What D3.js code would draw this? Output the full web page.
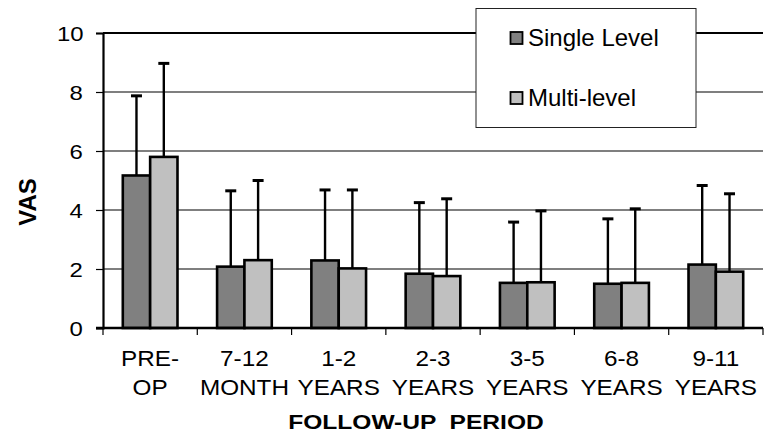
<!DOCTYPE html>
<html>
<head>
<meta charset="utf-8">
<script src="https://cdn.jsdelivr.net/npm/d3@7"></script>
<style>
  body { margin: 0; background: #fff; }
  svg text { font-family: Arial, "Liberation Sans", sans-serif; fill: #000; }
  .wide { transform-box: fill-box; transform-origin: center; }
</style>
</head>
<body>
<svg id="chart" width="766" height="434"></svg>
<script>
const periods = [["PRE-", "OP"], ["7-12", "MONTH"], ["1-2", "YEARS"], ["2-3", "YEARS"], ["3-5", "YEARS"], ["6-8", "YEARS"], ["9-11", "YEARS"]]
const seriesNames = ["Single Level", "Multi-level"]
const singleMean = [5.17, 2.08, 2.29, 1.84, 1.53, 1.50, 2.15]
const singleSD = [2.70, 2.57, 2.39, 2.41, 2.06, 2.20, 2.68]
const multiMean = [5.80, 2.30, 2.02, 1.76, 1.55, 1.53, 1.91]
const multiSD = [3.17, 2.70, 2.66, 2.62, 2.42, 2.51, 2.64]
const yTicks = [0, 2, 4, 6, 8, 10]
const colors = ["#808080", "#c0c0c0"]

const svg = d3.select("#chart")
const plotLeft = 103, plotRight = 763, plotTop = 33, plotBottom = 328

const rows = periods.map((p, i) => ({
  key: i,
  label: p,
  vals: [
    { s: 0, mean: singleMean[i], sd: singleSD[i] },
    { s: 1, mean: multiMean[i], sd: multiSD[i] }
  ]
}))

const x = d3.scaleBand().domain(d3.range(periods.length)).range([plotLeft, plotRight]).paddingInner(0).paddingOuter(0)
const inner = d3.scaleBand().domain([0, 1]).range([x.bandwidth() * 0.21, x.bandwidth() * 0.79])
const y = d3.scaleLinear().domain([0, 10]).range([plotBottom, plotTop])

// gridlines
svg.append("g")
  .selectAll("line")
  .data(yTicks.filter(d => d > 0))
  .enter()
  .append("line")
  .attr("x1", plotLeft)
  .attr("x2", plotRight)
  .attr("y1", d => y(d))
  .attr("y2", d => y(d))
  .style("stroke", "#000")
  .style("stroke-width", d => d === 10 ? 2 : 1.2)

// bars
const groups = svg.append("g")
  .selectAll("g")
  .data(rows)
  .enter()
  .append("g")
  .attr("transform", d => "translate(" + x(d.key) + ",0)")

groups.selectAll("line.err")
  .data(d => d.vals)
  .enter()
  .append("line")
  .attr("class", "err")
  .attr("x1", d => inner(d.s) + inner.bandwidth() / 2)
  .attr("x2", d => inner(d.s) + inner.bandwidth() / 2)
  .attr("y1", d => y(d.mean))
  .attr("y2", d => y(d.mean + d.sd))
  .style("stroke", "#000")
  .style("stroke-width", 2.4)

groups.selectAll("line.cap")
  .data(d => d.vals)
  .enter()
  .append("line")
  .attr("class", "cap")
  .attr("x1", d => inner(d.s) + inner.bandwidth() / 2 - 5.5)
  .attr("x2", d => inner(d.s) + inner.bandwidth() / 2 + 5.5)
  .attr("y1", d => y(d.mean + d.sd))
  .attr("y2", d => y(d.mean + d.sd))
  .style("stroke", "#000")
  .style("stroke-width", 3)

groups.selectAll("rect")
  .data(d => d.vals)
  .enter()
  .append("rect")
  .attr("x", d => inner(d.s))
  .attr("y", d => y(d.mean))
  .attr("width", inner.bandwidth())
  .attr("height", d => y(0) - y(d.mean))
  .style("fill", d => colors[d.s])
  .style("stroke", "#000")
  .style("stroke-width", 2.6)

// y axis
const yAxis = svg.append("g")
  .attr("transform", "translate(" + plotLeft + ",0)")
  .call(d3.axisLeft(y).tickValues(yTicks).tickSize(7).tickPadding(14))
yAxis.select(".domain").style("stroke-width", 2.2)
yAxis.selectAll(".tick line").style("stroke-width", 1.2)
yAxis.selectAll("text")
  .attr("class", "wide")
  .style("font-size", "21px")
  .style("transform", "scaleX(1.14)")
  .attr("dy", "0.36em")

// x axis
const xAxis = svg.append("g")
  .attr("transform", "translate(0," + plotBottom + ")")
xAxis.append("line")
  .attr("x1", plotLeft - 7)
  .attr("x2", plotRight)
  .attr("y1", 0)
  .attr("y2", 0)
  .style("stroke", "#000")
  .style("stroke-width", 2.4)
xAxis.selectAll("line.tk")
  .data(d3.range(periods.length + 1))
  .enter()
  .append("line")
  .attr("class", "tk")
  .attr("x1", d => plotLeft + d * x.bandwidth())
  .attr("x2", d => plotLeft + d * x.bandwidth())
  .attr("y1", 0)
  .attr("y2", 7)
  .style("stroke", "#000")
  .style("stroke-width", 1.2)

const lbl = xAxis.selectAll("text.lbl")
  .data(rows)
  .enter()
  .append("text")
  .attr("class", "lbl wide")
  .attr("text-anchor", "middle")
  .style("font-size", "22.5px")
  .style("transform", "scaleX(1.08)")
lbl.append("tspan")
  .attr("x", d => x(d.key) + x.bandwidth() / 2)
  .attr("y", 38)
  .text(d => d.label[0])
lbl.append("tspan")
  .attr("x", d => x(d.key) + x.bandwidth() / 2)
  .attr("y", 67)
  .text(d => d.label[1])

// axis titles
svg.append("text")
  .attr("class", "wide")
  .attr("x", 416)
  .attr("y", 429)
  .attr("text-anchor", "middle")
  .style("font-size", "21px")
  .style("font-weight", "bold")
  .style("transform", "scaleX(1.17)")
  .style("white-space", "pre")
  .text("FOLLOW-UP  PERIOD")

svg.append("text")
  .attr("transform", "translate(36,202) rotate(-90)")
  .attr("text-anchor", "middle")
  .style("font-size", "24px")
  .style("font-weight", "bold")
  .text("VAS")

// legend
const legend = svg.append("g")
legend.append("rect")
  .attr("x", 476)
  .attr("y", 8.5)
  .attr("width", 220)
  .attr("height", 119)
  .style("fill", "#fff")
  .style("stroke", "#222")
  .style("stroke-width", 1)

legend.selectAll("rect.sw")
  .data(seriesNames)
  .enter()
  .append("rect")
  .attr("class", "sw")
  .attr("x", 510.5)
  .attr("y", (d, i) => 32 + i * 60)
  .attr("width", 12)
  .attr("height", 12)
  .style("fill", (d, i) => colors[i])
  .style("stroke", "#000")
  .style("stroke-width", 1.8)

legend.selectAll("text")
  .data(seriesNames)
  .enter()
  .append("text")
  .attr("x", 528)
  .attr("y", (d, i) => 46 + i * 60)
  .style("font-size", "24px")
  .text(d => d)
</script>
</body>
</html>
